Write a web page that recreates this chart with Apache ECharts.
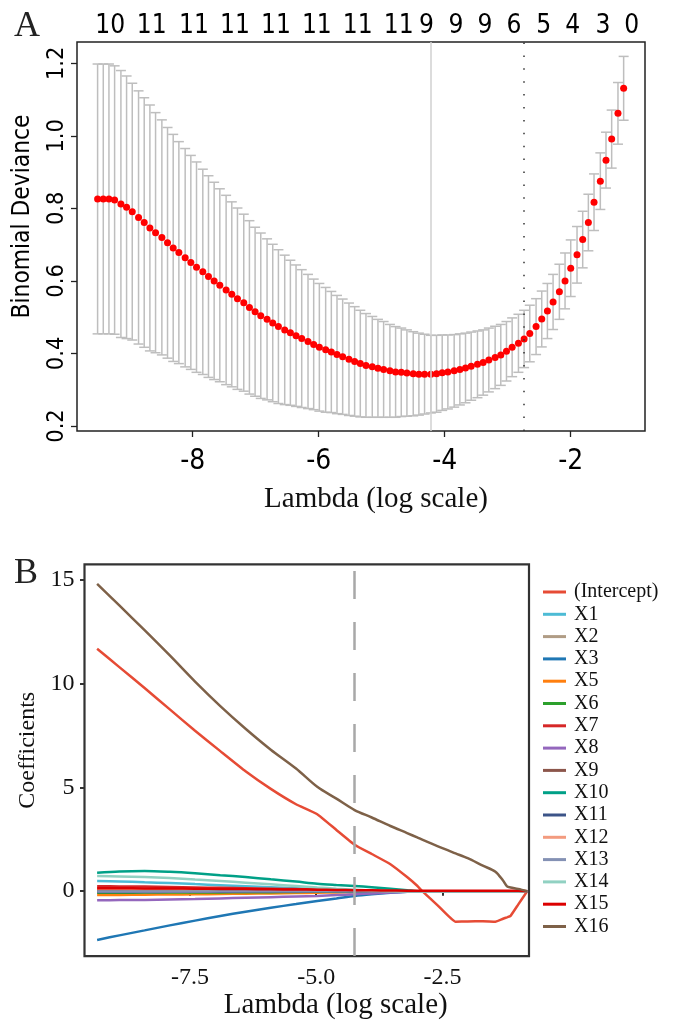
<!DOCTYPE html>
<html><head><meta charset="utf-8">
<script src="https://cdn.jsdelivr.net/npm/echarts@6/dist/echarts.min.js"></script>
<style>html,body{margin:0;padding:0;background:#fff}#c{width:676px;height:1021px}</style>
</head><body><div id="c"></div>
<script>
// ---------- Panel A data (cross-validation curve) ----------
const lambdaCV = [-9.51,-9.42,-9.33,-9.24,-9.14,-9.05,-8.96,-8.86,-8.77,-8.68,
-8.59,-8.49,-8.40,-8.31,-8.22,-8.12,-8.03,-7.94,-7.84,-7.75,
-7.66,-7.57,-7.47,-7.38,-7.29,-7.19,-7.10,-7.01,-6.92,-6.82,
-6.73,-6.64,-6.54,-6.45,-6.36,-6.27,-6.17,-6.08,-5.99,-5.89,
-5.80,-5.71,-5.62,-5.52,-5.43,-5.34,-5.25,-5.15,-5.06,-4.97,
-4.87,-4.78,-4.69,-4.60,-4.50,-4.41,-4.32,-4.22,-4.13,-4.04,
-3.95,-3.85,-3.76,-3.67,-3.58,-3.48,-3.39,-3.30,-3.20,-3.11,
-3.02,-2.93,-2.83,-2.74,-2.65,-2.55,-2.46,-2.37,-2.28,-2.18,
-2.09,-2.00,-1.90,-1.81,-1.72,-1.63,-1.53,-1.44,-1.35,-1.25,-1.16];
const cvMean = [0.826,0.826,0.826,0.823,0.812,0.803,0.791,0.775,0.761,0.746,
0.733,0.720,0.705,0.691,0.678,0.664,0.651,0.638,0.625,0.612,
0.600,0.588,0.575,0.563,0.551,0.540,0.527,0.515,0.504,0.494,
0.484,0.474,0.465,0.457,0.449,0.441,0.433,0.425,0.417,0.410,
0.404,0.397,0.391,0.384,0.378,0.372,0.367,0.363,0.359,0.356,
0.352,0.349,0.348,0.346,0.344,0.343,0.343,0.343,0.344,0.347,
0.349,0.352,0.356,0.360,0.365,0.370,0.375,0.382,0.389,0.396,
0.406,0.417,0.428,0.440,0.455,0.474,0.495,0.517,0.542,0.570,
0.600,0.635,0.672,0.714,0.761,0.817,0.875,0.933,0.991,1.062,1.131];
const cvSE = [0.372,0.372,0.372,0.370,0.368,0.362,0.354,0.349,0.344,0.339,
0.331,0.324,0.318,0.313,0.306,0.301,0.295,0.290,0.283,0.278,
0.272,0.266,0.261,0.255,0.250,0.244,0.239,0.233,0.228,0.222,
0.217,0.212,0.206,0.200,0.195,0.190,0.185,0.180,0.176,0.172,
0.167,0.163,0.159,0.155,0.151,0.147,0.143,0.139,0.135,0.132,
0.128,0.125,0.122,0.119,0.116,0.113,0.110,0.107,0.106,0.104,
0.102,0.100,0.098,0.096,0.094,0.092,0.090,0.088,0.086,0.084,
0.082,0.081,0.080,0.079,0.078,0.077,0.077,0.076,0.076,0.076,
0.077,0.078,0.078,0.078,0.078,0.078,0.078,0.077,0.080,0.085,0.088];
const nzPos = [-9.31,-8.65,-7.98,-7.33,-6.68,-6.03,-5.38,-4.73,-4.29,-3.82,-3.36,-2.90,-2.43,-1.97,-1.49,-1.03];
const nzLabels = ['10','11','11','11','11','11','11','11','9','9','9','6','5','4','3','0'];
const lambdaMin = -4.22;
const lambda1se = -2.74;
const xTicksA = [-8,-6,-4,-2];
const yTicksA = [0.2,0.4,0.6,0.8,1.0,1.2];

// ---------- Panel B data (coefficient paths) ----------
const coefLambda = [-9.34,-8.9,-8.4,-7.9,-7.4,-6.9,-6.4,-5.9,-5.4,-4.98,-4.6,-4.24,-3.9,-3.53,-3.2,-3.0,-2.9,-2.6,-2.24,-2.0,-1.7,-1.45,-1.3,-1.22,-1.15,-1.0,-0.82];
const cIntercept = [11.68,10.80,9.79,8.76,7.73,6.75,5.78,4.93,4.19,3.71,2.95,2.24,1.79,1.30,0.68,0.26,0,-0.67,-1.47,-1.46,-1.45,-1.47,-1.33,-1.26,-1.19,-0.65,0];
const cX1  = [0.49,0.47,0.43,0.39,0.34,0.29,0.24,0.19,0.14,0.10,0.07,0.04,0.02,0.01,0,0,0,0,0,0,0,0,0,0,0,0,0];
const cX2  = [0.03,0.03,0.03,0.03,0.02,0.02,0.02,0.02,0.01,0.01,0.01,0.01,0,0,0,0,0,0,0,0,0,0,0,0,0,0,0];
const cX3  = [-2.35,-2.13,-1.89,-1.65,-1.42,-1.20,-0.99,-0.80,-0.62,-0.47,-0.35,-0.23,-0.15,-0.08,-0.03,0,0,0,0,0,0,0,0,0,0,0,0];
const cX5  = [-0.18,-0.18,-0.17,-0.16,-0.15,-0.14,-0.12,-0.11,-0.09,-0.08,-0.06,-0.05,-0.03,-0.02,-0.01,0,0,0,0,0,0,0,0,0,0,0,0];
const cX6  = [-0.08,-0.08,-0.07,-0.07,-0.06,-0.06,-0.05,-0.05,-0.04,-0.03,-0.03,-0.02,-0.01,0,0,0,0,0,0,0,0,0,0,0,0,0,0];
const cX7  = [0.24,0.23,0.22,0.20,0.18,0.16,0.14,0.12,0.10,0.08,0.06,0.04,0.03,0.02,0.01,0,0,0,0,0,0,0,0,0,0,0,0];
const cX8  = [-0.44,-0.43,-0.42,-0.40,-0.38,-0.35,-0.32,-0.29,-0.26,-0.23,-0.19,-0.15,-0.11,-0.07,-0.03,0,0,0,0,0,0,0,0,0,0,0,0];
const cX9  = [0.06,0.06,0.06,0.05,0.05,0.05,0.04,0.04,0.03,0.03,0.02,0.02,0.01,0.01,0,0,0,0,0,0,0,0,0,0,0,0,0];
const cX10 = [0.89,0.95,0.97,0.93,0.86,0.77,0.68,0.57,0.46,0.36,0.30,0.25,0.19,0.12,0.05,0,0,0,0,0,0,0,0,0,0,0,0];
const cX11 = [-0.04,-0.04,-0.04,-0.03,-0.03,-0.03,-0.02,-0.02,-0.02,-0.01,-0.01,-0.01,0,0,0,0,0,0,0,0,0,0,0,0,0,0,0];
const cX12 = [0.10,0.10,0.09,0.09,0.08,0.07,0.06,0.05,0.04,0.03,0.02,0.02,0.01,0,0,0,0,0,0,0,0,0,0,0,0,0,0];
const cX13 = [-0.02,-0.02,-0.02,-0.02,-0.02,-0.01,-0.01,-0.01,-0.01,-0.01,0,0,0,0,0,0,0,0,0,0,0,0,0,0,0,0,0];
const cX14 = [0.73,0.71,0.68,0.63,0.56,0.49,0.41,0.33,0.25,0.18,0.12,0.07,0.03,0.01,0,0,0,0,0,0,0,0,0,0,0,0,0];
const cX15 = [0.14,0.14,0.13,0.13,0.12,0.11,0.10,0.09,0.08,0.07,0.06,0.05,0.04,0.03,0.02,0.02,0.02,0.02,0.02,0.02,0.02,0.02,0.02,0.02,0.02,0.02,0];
const cX16 = [14.81,13.77,12.58,11.36,10.10,8.92,7.83,6.82,5.91,5.03,4.46,3.91,3.55,3.14,2.80,2.59,2.48,2.17,1.82,1.59,1.23,0.94,0.51,0.23,0.18,0.11,0];
const coefNames = ['(Intercept)','X1','X2','X3','X5','X6','X7','X8','X9','X10','X11','X12','X13','X14','X15','X16'];
const coefValues = [cIntercept,cX1,cX2,cX3,cX5,cX6,cX7,cX8,cX9,cX10,cX11,cX12,cX13,cX14,cX15,cX16];
const coefColors = ['#E64B35','#4DBBD5','#B09C85','#1F77B4','#FF7F0E','#2CA02C','#D62728','#9467BD','#8C564B','#00A087','#3C5488','#F39B7F','#8491B4','#91D1C2','#DC0000','#7E6148'];
const dashedLambda = -4.24;
const xTicksB = [-7.5,-5,-2.5];
const yTicksB = [0,5,10,15];

// ---------- fonts ----------
function hasFont(name){
  const c = document.createElement('canvas').getContext('2d');
  const t = 'Binomial Deviance 0123456789';
  c.font = '40px monospace'; const a = c.measureText(t).width;
  c.font = "40px '" + name + "', monospace"; const b = c.measureText(t).width;
  return Math.abs(a - b) > 0.5;
}
let SANS = "'Liberation Sans', Arial, sans-serif", SF = 0.88;
if (hasFont('Liberation Sans Narrow')) { SANS = "'Liberation Sans Narrow', 'Liberation Sans', sans-serif"; SF = 1; }
else if (hasFont('DejaVu Sans Condensed')) { SANS = "'DejaVu Sans Condensed', sans-serif"; SF = 0.9; }
const SERIF = "'Liberation Serif', 'Times New Roman', serif";

const chart = echarts.init(document.getElementById('c'), null, {renderer: 'canvas'});

const errData = lambdaCV.map((l, i) => [l, cvMean[i] - cvSE[i], cvMean[i] + cvSE[i]]);
const meanData = lambdaCV.map((l, i) => [l, cvMean[i]]);

const coefSeries = coefNames.map((n, k) => {
  const s = {
    name: n, type: 'line', xAxisIndex: 2, yAxisIndex: 1,
    data: coefLambda.map((l, i) => [l, coefValues[k][i]]),
    showSymbol: false, symbol: 'none',
    smooth: k === 0 ? 0.12 : 0.3,
    lineStyle: {color: coefColors[k], width: 2.5},
    itemStyle: {color: coefColors[k]},
    z: 2 + k * 0.01
  };
  if (k === coefNames.length - 1) {
    s.markLine = {
      silent: true, symbol: ['none', 'none'], label: {show: false},
      lineStyle: {color: '#A8A8A8', width: 2.5, type: [28, 23]},
      data: [{xAxis: dashedLambda}]
    };
  }
  return s;
});

const option = {
  animation: false,
  backgroundColor: '#fff',
  title: [
    {text: 'A', left: 9, top: 4, textStyle: {fontFamily: SERIF, fontSize: 36, fontWeight: 'normal', color: '#222'}},
    {text: 'B', left: 9, top: 551, textStyle: {fontFamily: SERIF, fontSize: 36, fontWeight: 'normal', color: '#222'}}
  ],
  grid: [
    {left: 77, top: 42, width: 568, height: 389, show: true, borderColor: '#222', borderWidth: 1.5, backgroundColor: 'transparent'},
    {left: 84.5, top: 564.4, width: 444.5, height: 394.6, show: true, borderColor: '#333', borderWidth: 2.2, backgroundColor: 'transparent'}
  ],
  xAxis: [
    {gridIndex: 0, type: 'value', min: -9.837, max: -0.821, position: 'bottom',
     axisLine: {show: false}, splitLine: {show: false},
     axisTick: {show: true, length: 6, lineStyle: {color: '#222', width: 1.3}, customValues: xTicksA},
     axisLabel: {customValues: xTicksA, margin: 17, fontFamily: SANS, fontSize: 31 * SF, color: '#000', formatter: v => String(v)},
     name: 'Lambda (log scale)', nameLocation: 'middle', nameGap: 54,
     nameTextStyle: {fontFamily: SERIF, fontSize: 29, color: '#111', padding: [0, 0, 0, 30]}},
    {gridIndex: 0, type: 'value', min: -9.837, max: -0.821, position: 'top',
     axisLine: {show: false}, splitLine: {show: false}, axisTick: {show: false},
     axisLabel: {customValues: nzPos, margin: 3, fontFamily: SANS, fontSize: 29 * SF, color: '#000',
       formatter: v => { let best = 0; nzPos.forEach((p, i) => { if (Math.abs(p - v) < Math.abs(nzPos[best] - v)) best = i; }); return nzLabels[best]; }}},
    {gridIndex: 1, type: 'value', min: -9.59, max: -0.785,
     axisLine: {show: false}, splitLine: {show: false},
     axisTick: {show: true, length: 4.5, lineStyle: {color: '#333', width: 2}, customValues: xTicksB},
     axisLabel: {customValues: xTicksB, margin: 10, fontFamily: SERIF, fontSize: 24, color: '#111', formatter: v => v.toFixed(1)},
     name: 'Lambda (log scale)', nameLocation: 'middle', nameGap: 28,
     nameTextStyle: {fontFamily: SERIF, fontSize: 29, color: '#111', padding: [0, 0, 0, 58]}}
  ],
  yAxis: [
    {gridIndex: 0, type: 'value', min: 0.1862, max: 1.2587,
     axisLine: {show: false}, splitLine: {show: false},
     axisTick: {show: true, length: 6, lineStyle: {color: '#222', width: 1.3}, customValues: yTicksA},
     axisLabel: {customValues: yTicksA, rotate: 90, margin: 9, fontFamily: SANS, fontSize: 26 * SF, color: '#000', formatter: v => v.toFixed(1)},
     name: 'Binomial Deviance', nameLocation: 'middle', nameRotate: 90, nameGap: 42,
     nameTextStyle: {fontFamily: SANS, fontSize: 27 * SF, color: '#000', padding: [0, 0, 0, 40]}},
    {gridIndex: 1, type: 'value', min: -3.13, max: 15.75,
     axisLine: {show: false}, splitLine: {show: false},
     axisTick: {show: true, length: 4.5, lineStyle: {color: '#333', width: 2}, customValues: yTicksB},
     axisLabel: {customValues: yTicksB, margin: 10, fontFamily: SERIF, fontSize: 24, color: '#111'},
     name: 'Coefficients', nameLocation: 'middle', nameRotate: 90, nameGap: 39,
     nameTextStyle: {fontFamily: SERIF, fontSize: 24, color: '#111', padding: [0, 0, 0, 20]}}
  ],
  legend: {
    orient: 'vertical', left: 543, top: 582, padding: 0,
    itemWidth: 23, itemHeight: 3, itemGap: 2.3, icon: 'rect',
    data: coefNames,
    textStyle: {fontFamily: SERIF, fontSize: 20, lineHeight: 20, color: '#111', padding: [0, 0, 0, 3]},
    selectedMode: false
  },
  series: [
    {type: 'custom', xAxisIndex: 0, yAxisIndex: 0, data: errData, encode: {x: 0, y: [1, 2]}, z: 1, silent: true,
     renderItem: function (params, api) {
       const x = api.value(0), lo = api.value(1), hi = api.value(2);
       const a = api.coord([x, hi]), b = api.coord([x, lo]);
       const w = 5;
       const st = {stroke: '#BEBEBE', lineWidth: 1.5, fill: null};
       return {type: 'group', children: [
         {type: 'line', shape: {x1: a[0], y1: a[1], x2: b[0], y2: b[1]}, style: st},
         {type: 'line', shape: {x1: a[0] - w, y1: a[1], x2: a[0] + w, y2: a[1]}, style: st},
         {type: 'line', shape: {x1: b[0] - w, y1: b[1], x2: b[0] + w, y2: b[1]}, style: st}
       ]};
     },
     markLine: {silent: true, symbol: ['none', 'none'], label: {show: false},
       data: [
         {xAxis: lambdaMin, lineStyle: {color: '#D0D0D0', width: 1.5, type: 'solid'}},
         {xAxis: lambda1se, lineStyle: {color: '#333', width: 1.5, type: [1.5, 11.4]}}
       ]}
    },
    {type: 'scatter', xAxisIndex: 0, yAxisIndex: 0, data: meanData, symbolSize: 7, z: 3,
     itemStyle: {color: '#FF0000', opacity: 1}, silent: true}
  ].concat(coefSeries)
};
chart.setOption(option);
</script></body></html>
